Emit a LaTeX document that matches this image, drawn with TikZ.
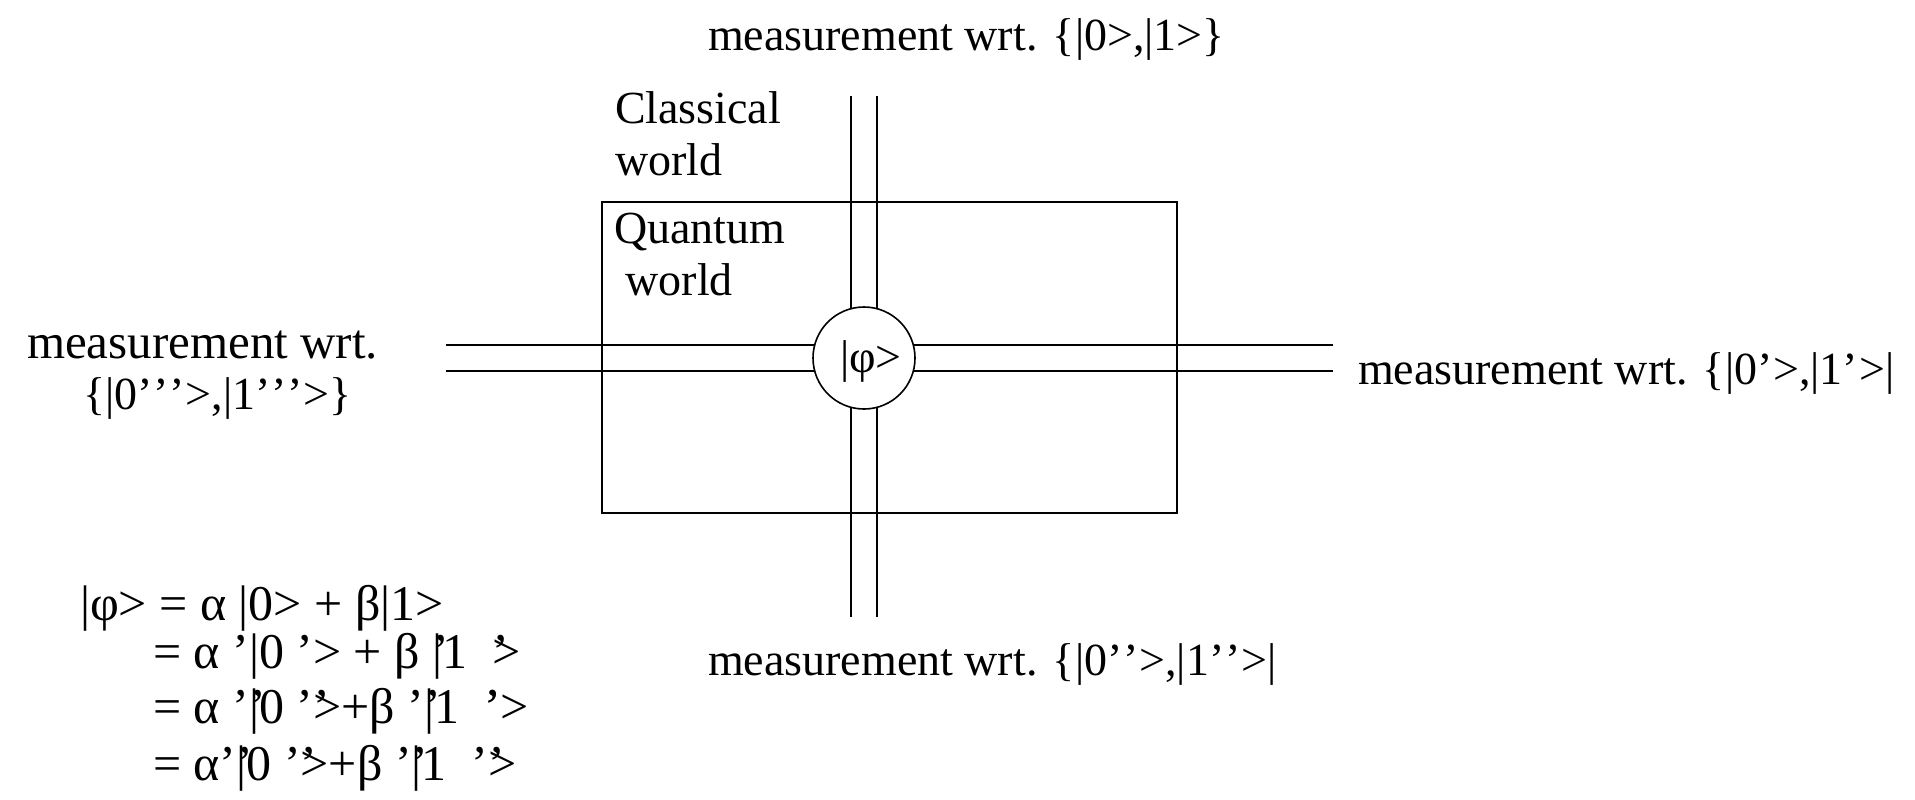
\documentclass[tikz,border=0pt]{standalone}
\usepackage{fontspec}
\setmainfont{Liberation Serif}
\usepackage{tikz}
\usetikzlibrary{positioning}
\newcommand{\qm}{’\kern0.4pt}
\newcommand{\oq}{\rlap{’}}

\begin{document}
\begin{tikzpicture}[x=0.5pt,y=-0.5pt, every node/.style={font=\fontsize{23}{25}\selectfont,inner sep=0pt,outer sep=0pt}, lbl/.style={anchor=base west}, big/.style={font=\fontsize{24.5}{26}\selectfont}, eq/.style={anchor=base west,font=\fontsize{25}{27}\selectfont}, rail/.style={line width=0.9pt,double=white,double distance=12.1pt}, qubit/.style={draw,circle,fill=white,line width=0.8pt,minimum size=51pt}]
\useasboundingbox (0,0) rectangle (1915,799);
% wires through the quantum world
\coordinate (wl) at (446,358);
\coordinate (el) at (1333,358);
\coordinate (nl) at (864,96);
\coordinate (sl) at (864,617);
\draw[rail] (wl) -- (el);
\draw[rail] (nl) -- (sl);
\draw[line width=0.75pt] (602,202) rectangle (1177,513);
\node[qubit] (state) at (864,358) {};
\node[lbl] (ket) at (840,372) {|φ>};
% labels
\node[lbl] (top) at (708,50) {measurement wrt. \{|0>,|1>\}};
\node[lbl] (bottom) at (708,675) {measurement wrt. \{|0\qm\qm>,|1\qm\qm>|};
\node[lbl] (right) at (1358,384) {measurement wrt. \{|0\qm>,|1\qm>|};
\node[lbl,big] (lefta) at (27,358) {measurement wrt.};
\node[lbl] (leftb) at (83,409) {\{|0\qm\qm\qm>,|1\qm\qm\qm>\}};
\node[lbl] (cla) at (615,123) {Classical};
\node[lbl] (clb) at (615,175) {world};
\node[lbl] (qua) at (614,243) {Quantum};
\node[lbl] (qub) at (614,295) {\ world};
% expansions of the state
\node[eq] (eqa) at (80,620) {|φ> = α |0> + β|1>};
\node[eq] (eqb) at (153,668) {= α ’|0 ’> + β \oq|1 \ \oq>};
\node[eq] (eqc) at (153,723) {= α ’\oq|0 ’\oq>+β ’\oq|1 \ \oq’>};
\node[eq] (eqd) at (153,780) {= α’\oq|0 ’\oq>+β ’\oq|1 \ ’\oq>};
\end{tikzpicture}
\end{document}
